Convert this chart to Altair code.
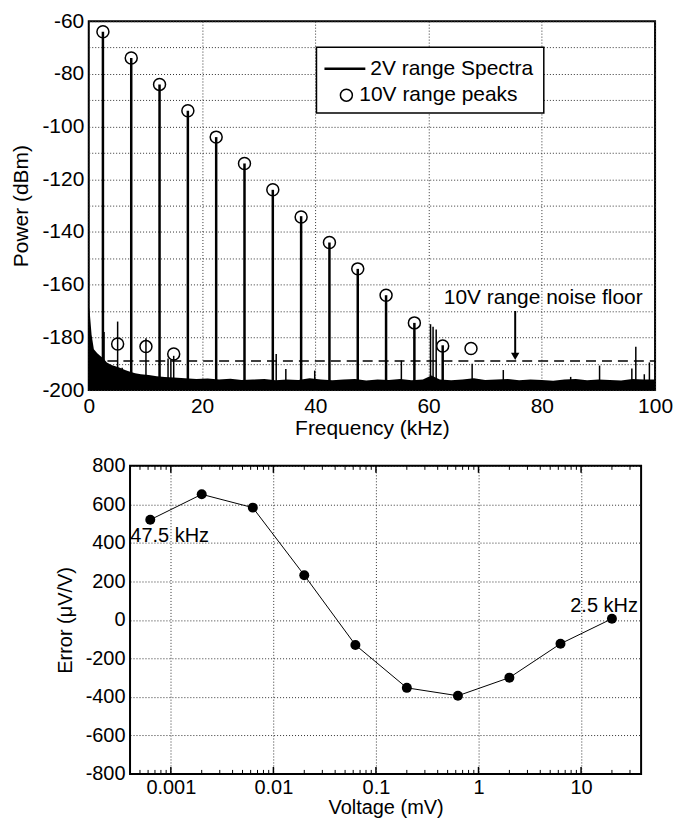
import altair as alt
import pandas as pd

FONT = "Liberation Sans"

# ---------------- top panel data ----------------
harm_freq = [2.5, 7.5, 12.5, 17.5, 22.5, 27.5, 32.5, 37.5, 42.5, 47.5, 52.5, 57.5, 62.5]
harm_db = [-64, -74, -84, -94, -104, -114, -124, -134, -144, -154, -164, -174.5, -183]

spur_freq = [2.7, 5.1, 5.9, 10.1, 14.0, 14.5, 15.0, 33.1, 34.8, 39.9, 55.2, 60.35, 60.8,
             61.35, 67.7, 73.2, 85.1, 90.2, 95.9, 96.6, 98.1, 99.0]
spur_db = [-178, -174, -191.5, -180.3, -188, -188.5, -187, -186.3, -192, -192.6, -188.8, -175,
           -176, -177, -190, -192.4, -195, -190.7, -191.8, -183.6, -194, -189.5]

noise_freq = [0.0, 0.15, 0.5, 0.9, 1.5, 2.0, 2.6, 3.2, 4.0, 4.7, 5.5, 6.4, 7.3, 8.2, 9.2, 10.6,
              12.0, 13.4, 15.0, 17.0, 19.0, 21.0, 23.0, 25.0, 27.0, 29.0, 31.0, 33.0, 35.0, 37.0,
              39.0, 41.0, 43.0, 45.0, 47.0, 49.0, 51.0, 53.0, 55.0, 57.0, 59.0, 60.5, 62.0, 64.0,
              66.0, 68.0, 70.0, 72.0, 74.0, 76.0, 78.0, 80.0, 82.0, 84.0, 86.0, 88.0, 90.0, 92.0,
              94.0, 96.0, 98.0, 100.0]
noise_db = [-168, -170, -179, -184.5, -186, -187, -188, -189.5, -190.5, -191, -191.5, -192.4,
            -193, -193.6, -194, -194.3, -194.8, -195, -195.2, -195.5, -195.8, -195.6, -196,
            -195.7, -196.2, -196, -195.8, -196.3, -196, -196.2, -195.5, -196, -196.3, -196,
            -195.8, -196.4, -196, -196.2, -195.8, -196.3, -196, -194.5, -196, -196.3, -196,
            -195.5, -196.2, -196, -195.8, -196.3, -196, -196.2, -196.5, -196, -195.8, -196.3,
            -196, -196.2, -196.4, -195.8, -196, -196]

peak10_freq = [2.5, 5.1, 7.5, 10.1, 12.5, 15.0, 17.5, 22.5, 27.5, 32.5, 37.5, 42.5, 47.5,
               52.5, 57.5, 62.5, 67.5]
peak10_db = [-64, -182.5, -74, -183.5, -84, -186.3, -94, -104, -114, -124, -134.3, -144,
             -154, -164, -174.5, -183.3, -184.2]

floor10_db = -189
legend_labels = ["2V range Spectra", "10V range peaks"]
floor_label = "10V range noise floor"

# ---------------- bottom panel data ----------------
volt_mv = [0.00063, 0.002, 0.0063, 0.02, 0.063, 0.2, 0.63, 2, 6.3, 20]
error_uvv = [520, 652, 583, 232, -130, -353, -394, -300, -124, 6]
point_labels = ["47.5 kHz", "2.5 kHz"]
minor_ticks = [0.0005, 0.0006, 0.0007, 0.0008, 0.0009,
               0.002, 0.003, 0.004, 0.005, 0.006, 0.007, 0.008, 0.009,
               0.02, 0.03, 0.04, 0.05, 0.06, 0.07, 0.08, 0.09,
               0.2, 0.3, 0.4, 0.5, 0.6, 0.7, 0.8, 0.9,
               2, 3, 4, 5, 6, 7, 8, 9, 20, 30]
major_ticks = [0.001, 0.01, 0.1, 1, 10]

# ---------------- layout constants ----------------
TOP_W, TOP_H = 568, 370
BOT_W, BOT_H = 554, 309
BOT_X0 = 41.4
GRID = dict(grid=True, gridDash=[1, 2], gridColor="#333333", gridWidth=1, gridOpacity=1)

# ---------------- top panel ----------------
xs_top = alt.Scale(domain=[0, 100], nice=False, zero=False)
ys_top = alt.Scale(domain=[-200, -60], nice=False, zero=False)
x_vals_top = [0, 20, 40, 60, 80, 100]
y_vals_top = list(range(-200, -59, 10))
x_axis_top = alt.Axis(values=x_vals_top, tickCount=len(x_vals_top) + 2,
                      labelExpr="'' + datum.value",
                      title="Frequency (kHz)", ticks=False, domain=False, labelFlush=False,
                      labelFontSize=21, titleFontSize=21, labelPadding=5, titlePadding=2,
                      labelOverlap=False, **GRID)
y_axis_top = alt.Axis(values=y_vals_top, tickCount=len(y_vals_top) + 2,
                      labelExpr="datum.value % 20 == 0 ? '' + datum.value : ''",
                      title="Power (dBm)", ticks=False, domain=False, labelFontSize=21,
                      titleFontSize=21, labelPadding=5, titlePadding=10, labelOverlap=False,
                      **GRID)
x_top = alt.X("f:Q", scale=xs_top, axis=x_axis_top)
y_top = alt.Y("db:Q", scale=ys_top, axis=y_axis_top)

df_noise = pd.DataFrame({"f": noise_freq, "db": noise_db})
df_harm = pd.DataFrame({"f": harm_freq, "db": harm_db})
df_spur = pd.DataFrame({"f": spur_freq, "db": spur_db})
df_peak = pd.DataFrame({"f": peak10_freq, "db": peak10_db})
one = pd.DataFrame({"k": [0]})

noise = alt.Chart(df_noise).mark_area(color="black", interpolate="linear").encode(
    x=x_top, y=y_top, y2=alt.datum(-200))
harm = alt.Chart(df_harm).mark_rule(color="black", strokeWidth=2.5).encode(
    x=x_top, y=y_top, y2=alt.datum(-200))
spur = alt.Chart(df_spur).mark_rule(color="black", strokeWidth=1.5).encode(
    x=x_top, y=y_top, y2=alt.datum(-200))
peaks = alt.Chart(df_peak).mark_point(shape="circle", filled=False, size=144, strokeWidth=1.5,
                                      color="black", opacity=1).encode(x=x_top, y=y_top)
dashed = alt.Chart(one).mark_rule(color="black", strokeWidth=1.5, strokeDash=[10, 6]).encode(
    x=alt.datum(3.3), x2=alt.datum(100), y=alt.datum(floor10_db))
arrow = alt.Chart(one).mark_rule(color="black", strokeWidth=2).encode(
    x=alt.datum(75.3), y=alt.datum(-170), y2=alt.datum(-186))
arrow_head = alt.Chart(one).mark_point(shape="triangle-down", filled=True, size=70,
                                       color="black", opacity=1).encode(
    x=alt.datum(75.3), y=alt.datum(-187.2))
floor_text = alt.Chart(one).mark_text(text=floor_label, align="left", baseline="middle",
                                      fontSize=21, font=FONT, color="black").encode(
    x=alt.datum(62.7), y=alt.datum(-165.1))

# legend box
leg_box = alt.Chart(one).mark_rect(fillOpacity=1, fill="white", stroke="black",
                                   strokeWidth=1.5).encode(
    x=alt.value(228.4), x2=alt.value(456.4), y=alt.value(26.2), y2=alt.value(92.2))
leg_line = alt.Chart(one).mark_rule(color="black", strokeWidth=2.5).encode(
    x=alt.value(236.4), x2=alt.value(277.4), y=alt.value(47.8))
leg_circ = alt.Chart(one).mark_point(shape="circle", filled=False, size=144, strokeWidth=1.5,
                                     color="black", opacity=1).encode(
    x=alt.value(258.4), y=alt.value(74.2))
leg_t1 = alt.Chart(one).mark_text(text=legend_labels[0], align="left", baseline="middle",
                                  fontSize=21, font=FONT, color="black").encode(
    x=alt.value(282.4), y=alt.value(47.8))
leg_t2 = alt.Chart(one).mark_text(text=legend_labels[1], align="left", baseline="middle",
                                  fontSize=21, font=FONT, color="black").encode(
    x=alt.value(271.4), y=alt.value(74.2))

top = alt.layer(noise, harm, spur, peaks, dashed, arrow, arrow_head, floor_text,
                leg_box, leg_line, leg_circ, leg_t1, leg_t2).properties(
    width=TOP_W, height=TOP_H)

# ---------------- bottom panel ----------------
xs_bot = alt.Scale(type="log", domain=[0.0004, 38.5], range=[BOT_X0, BOT_W], nice=False)
ys_bot = alt.Scale(domain=[-800, 800], nice=False, zero=False)
y_vals_bot = list(range(-800, 801, 200))
x_axis_bot = alt.Axis(values=major_ticks, tickCount=len(major_ticks) + 2,
                      labelExpr="'' + datum.value", title="Voltage (mV)",
                      ticks=False, domain=False, labelFlush=False, labelFontSize=20,
                      titleFontSize=20, labelPadding=4, titlePadding=0, labelOverlap=False,
                      **GRID)
y_axis_bot = alt.Axis(values=y_vals_bot, tickCount=len(y_vals_bot) + 2,
                      labelExpr="'' + datum.value",
                      title="Error (\u03bcV/V)", ticks=False, domain=False, labelFontSize=20,
                      titleFontSize=20, labelPadding=5, titlePadding=10, offset=-BOT_X0,
                      labelOverlap=False, **GRID)
x_bot = alt.X("v:Q", scale=xs_bot, axis=x_axis_bot)
y_bot = alt.Y("e:Q", scale=ys_bot, axis=y_axis_bot)

df_err = pd.DataFrame({"v": volt_mv, "e": error_uvv})
df_minor = pd.DataFrame({"v": minor_ticks})
df_major = pd.DataFrame({"v": major_ticks})

err_line = alt.Chart(df_err).mark_line(color="black", strokeWidth=1).encode(x=x_bot, y=y_bot)
err_pts = alt.Chart(df_err).mark_point(filled=True, size=100, color="black",
                                       opacity=1).encode(x=x_bot, y=y_bot)
lab1 = alt.Chart(one).mark_text(text=point_labels[0], align="left", baseline="middle",
                                fontSize=20, font=FONT, color="black", dx=-20, dy=16).encode(
    x=alt.datum(volt_mv[0]), y=alt.datum(error_uvv[0]))
lab2 = alt.Chart(one).mark_text(text=point_labels[1], align="right", baseline="middle",
                                fontSize=20, font=FONT, color="black", dx=26, dy=-13).encode(
    x=alt.datum(volt_mv[-1]), y=alt.datum(error_uvv[-1]))
minor_top = alt.Chart(df_minor).mark_rule(color="black", strokeWidth=1).encode(
    x=x_bot, y=alt.value(0), y2=alt.value(4))
minor_bot = alt.Chart(df_minor).mark_rule(color="black", strokeWidth=1).encode(
    x=x_bot, y=alt.value(BOT_H - 4), y2=alt.value(BOT_H))
major_top = alt.Chart(df_major).mark_rule(color="black", strokeWidth=1.5).encode(
    x=x_bot, y=alt.value(0), y2=alt.value(7))
major_bot = alt.Chart(df_major).mark_rule(color="black", strokeWidth=1.5).encode(
    x=x_bot, y=alt.value(BOT_H - 7), y2=alt.value(BOT_H))
frame = alt.Chart(one).mark_rect(fillOpacity=0, stroke="black", strokeWidth=2).encode(
    x=alt.value(BOT_X0), x2=alt.value(BOT_W), y=alt.value(0), y2=alt.value(BOT_H))

bottom = alt.layer(err_line, err_pts, lab1, lab2, minor_top, minor_bot, major_top, major_bot,
                   frame).properties(width=BOT_W, height=BOT_H,
                                     view=alt.ViewBackground(strokeOpacity=0))

chart = alt.vconcat(top, bottom, spacing=16).properties(
    padding={"left": 1, "top": 0, "right": 2, "bottom": 0}
).configure(font=FONT).configure_view(stroke="black", strokeWidth=2).configure_axis(
    labelFont=FONT, titleFont=FONT, labelColor="black", titleColor="black",
    titleFontWeight="normal")

chart.save("out.html", embed_options={"renderer": "svg", "actions": False})
